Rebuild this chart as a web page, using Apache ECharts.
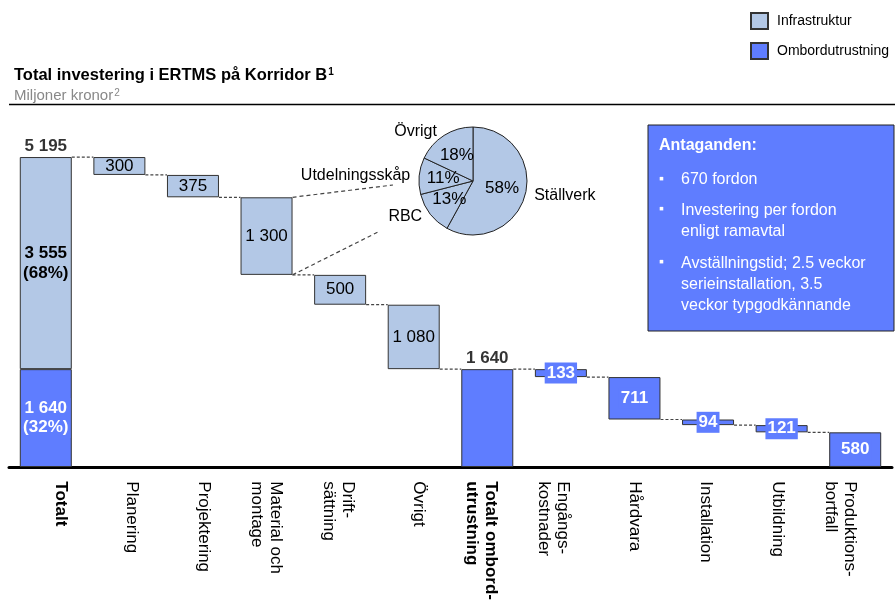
<!DOCTYPE html>
<html>
<head>
<meta charset="utf-8">
<script src="https://cdn.jsdelivr.net/npm/echarts@6/dist/echarts.min.js"></script>
<style>
  html, body { margin: 0; padding: 0; background: #fff; }
  #chart { width: 895px; height: 603px; }
</style>
</head>
<body>
<div id="chart"></div>
<script>
// waterfall data, million SEK
const categories = ['Totalt', 'Planering', 'Projektering', 'Material och\nmontage', 'Drift-\nsättning', 'Övrigt',
  'Totalt ombord-\nutrustning', 'Engångs-\nkostnader', 'Hårdvara', 'Installation', 'Utbildning', 'Produktions-\nbortfall'];
const infraValues = [3555, 300, 375, 1300, 500, 1080, '-', '-', '-', '-', '-', '-'];
const onboardValues = [1640, '-', '-', '-', '-', '-', 1640, 133, 711, 94, 121, 580];
const totalIdx = [0, 6];

// pie: split of "Material och montage"
const pieNames = ['Ställverk', 'RBC', 'Utdelningsskåp', 'Övrigt'];
const pieShares = [58, 13, 11, 18];

const LIGHT = '#b3c8e6';
const BLUE = '#5f7dff';
const FONT = '"Liberation Sans", Arial, sans-serif';
const barW = 52;

const fmt = n => String(n).replace(/\B(?=(\d{3})+(?!\d))/g, ' ');
const num = v => (v === '-' ? 0 : v);

// running levels for the waterfall
const grand = infraValues[0] + onboardValues[0];
let level = grand;
const base = [];
const levels = [];
categories.forEach((c, i) => {
  if (i === 0) { base.push(0); level = grand; }
  else if (i === 6) { base.push(0); level = onboardValues[6]; }
  else { level -= num(infraValues[i]) + num(onboardValues[i]); base.push(level); }
  levels.push(level);
});

const chart = echarts.init(document.getElementById('chart'));

const infraData = infraValues.map((v, i) => {
  if (i === 0) {
    return { value: v, label: { show: true, fontWeight: 'bold',
      formatter: fmt(v) + '\n(' + Math.round(v / grand * 100) + '%)' } };
  }
  return v;
});

const onboardData = onboardValues.map((v, i) => {
  if (i === 0) {
    return { value: v, label: { show: true, color: '#fff', fontWeight: 'bold',
      formatter: fmt(v) + '\n(' + Math.round(v / grand * 100) + '%)' } };
  }
  if (i === 6) return { value: v, label: { show: false } };
  return v;
});

chart.setOption({
  animation: false,
  textStyle: { fontFamily: FONT },
  title: {
    left: 9, top: 62, itemGap: 4,
    text: '{b|Total investering i ERTMS på Korridor B}{s|1}',
    textStyle: { rich: {
      b: { fontSize: 16.5, fontWeight: 'bold', color: '#000', fontFamily: FONT },
      s: { fontSize: 10, color: '#000', padding: [0, 0, 6, 1], fontFamily: FONT }
    } },
    subtext: '{t|Miljoner kronor}{s|2}',
    subtextStyle: { rich: {
      t: { fontSize: 15, color: '#888', fontFamily: FONT },
      s: { fontSize: 10, color: '#888', padding: [0, 0, 6, 1], fontFamily: FONT }
    } }
  },
  legend: {
    orient: 'vertical', left: 750, top: 12, padding: 0,
    itemWidth: 17, itemHeight: 16, itemGap: 12, icon: 'rect',
    data: ['Infrastruktur', 'Ombordutrustning'],
    textStyle: { fontSize: 14, lineHeight: 16, color: '#000', padding: [0, 0, 0, 4] },
    selectedMode: false
  },
  grid: [
    { left: 9, right: 3, top: 109, bottom: 136 },
    { left: 34, width: 883, top: 109, bottom: 136 }
  ],
  xAxis: [{
    type: 'category', data: categories, gridIndex: 0,
    axisLine: { lineStyle: { color: '#000', width: 3 } },
    axisTick: { show: false },
    axisLabel: { show: false }
  }, {
    type: 'category', data: categories, gridIndex: 1,
    axisLine: { show: false }, axisTick: { show: false },
    axisLabel: {
      interval: 0, rotate: -90, margin: 15, align: 'left', verticalAlign: 'top',
      fontSize: 17, lineHeight: 19, color: '#000',
      formatter: (v, i) => totalIdx.includes(i) ? '{b|' + v.split('\n').join('}\n{b|') + '}' : v,
      rich: { b: { fontWeight: 'bold', fontSize: 17, lineHeight: 19, color: '#000' } }
    }
  }],
  yAxis: [{
    type: 'value', min: 0, max: 6000, gridIndex: 0, show: false
  }, {
    type: 'value', min: 0, max: 6000, gridIndex: 1, show: false
  }],
  series: [{
    name: 'base', type: 'bar', stack: 'w', barWidth: barW, silent: true,
    itemStyle: { color: 'transparent' },
    data: base
  }, {
    name: 'Ombordutrustning', type: 'bar', stack: 'w', barWidth: barW,
    itemStyle: { color: BLUE, borderColor: '#333', borderWidth: 1 },
    label: {
      show: true, position: 'inside', color: '#fff', fontWeight: 'bold', fontSize: 17,
      lineHeight: 19, backgroundColor: BLUE, padding: [2, 2, 0, 2],
      formatter: p => fmt(p.value)
    },
    emphasis: { disabled: true },
    data: onboardData
  }, {
    name: 'Infrastruktur', type: 'bar', stack: 'w', barWidth: barW,
    itemStyle: { color: LIGHT, borderColor: '#333', borderWidth: 1 },
    label: {
      show: true, position: 'inside', color: '#000', fontSize: 17, lineHeight: 20,
      formatter: p => fmt(p.value)
    },
    emphasis: { disabled: true },
    data: infraData
  }, {
    name: 'totals', type: 'scatter', symbolSize: 0, silent: true,
    label: { show: true, position: 'top', distance: 2, fontWeight: 'bold', fontSize: 17, color: '#000',
      formatter: p => fmt(p.value[1]) },
    data: totalIdx.map(i => [i, i === 0 ? grand : onboardValues[i]])
  }, {
    name: 'connectors', type: 'custom', silent: true, z: 1,
    encode: { x: 0, y: 1 },
    data: levels.slice(0, -1).map((v, i) => [i, v]),
    renderItem: (params, api) => {
      const i = api.value(0), lv = api.value(1);
      const p0 = api.coord([i, lv]);
      const p1 = api.coord([i + 1, lv]);
      return {
        type: 'line',
        shape: { x1: p0[0] + barW / 2, y1: p0[1], x2: p1[0] - barW / 2, y2: p1[1] },
        style: { stroke: '#444', lineWidth: 1.2, lineDash: [3, 2] }
      };
    }
  }, {
    name: 'pie', type: 'pie', center: [473, 181], radius: 54,
    startAngle: 90, clockwise: true, silent: true,
    itemStyle: { color: LIGHT, borderColor: '#222', borderWidth: 1 },
    label: { position: 'inside', formatter: '{c}%', fontSize: 17, color: '#000' },
    emphasis: { disabled: true },
    data: pieNames.map((n, i) => ({ name: n, value: pieShares[i] }))
  }, {
    name: 'pieNames', type: 'pie', center: [473, 181], radius: 54,
    startAngle: 90, clockwise: true, silent: true,
    itemStyle: { color: 'transparent', borderWidth: 0 },
    label: { position: 'outside', formatter: '{b}', fontSize: 16, color: '#000' },
    labelLine: { show: false, length: 4, length2: 0 },
    emphasis: { disabled: true },
    data: pieNames.map((n, i) => ({ name: n, value: pieShares[i] }))
  }],
  graphic: [
    { id: 'rule', type: 'line', shape: { x1: 9, y1: 104.5, x2: 895, y2: 104.5 }, style: { stroke: '#000', lineWidth: 1.5 } },
    { id: 'box', type: 'rect', shape: { x: 648, y: 125, width: 246, height: 206 },
      style: { fill: BLUE, stroke: '#222', lineWidth: 1 } },
    { id: 't0', type: 'text', x: 659, y: 146, style: { text: 'Antaganden:', fill: '#fff', font: 'bold 16px ' + FONT, textVerticalAlign: 'middle' } },
    { id: 'b1', type: 'text', x: 659, y: 179, style: { text: '▪', fill: '#fff', font: '14px ' + FONT, textVerticalAlign: 'middle' } },
    { id: 't1', type: 'text', x: 681, y: 180, style: { text: '670 fordon', fill: '#fff', font: '16px ' + FONT, textVerticalAlign: 'middle' } },
    { id: 'b2', type: 'text', x: 659, y: 209, style: { text: '▪', fill: '#fff', font: '14px ' + FONT, textVerticalAlign: 'middle' } },
    { id: 't2', type: 'text', x: 681, y: 200, style: { text: 'Investering per fordon\nenligt ramavtal', fill: '#fff', font: '16px ' + FONT, lineHeight: 21 } },
    { id: 'b3', type: 'text', x: 659, y: 262, style: { text: '▪', fill: '#fff', font: '14px ' + FONT, textVerticalAlign: 'middle' } },
    { id: 't3', type: 'text', x: 681, y: 253, style: { text: 'Avställningstid; 2.5 veckor\nserieinstallation, 3.5\nveckor typgodkännande', fill: '#fff', font: '16px ' + FONT, lineHeight: 21 } }
  ]
});

// dashed guides from the "Material och montage" bar to the pie
const matIdx = 3;
const topR = chart.convertToPixel({ gridIndex: 0 }, [matIdx, base[matIdx] + infraValues[matIdx]]);
const botR = chart.convertToPixel({ gridIndex: 0 }, [matIdx, base[matIdx]]);
chart.setOption({
  graphic: [
    { id: 'guideTop', type: 'line', shape: { x1: topR[0] + barW / 2, y1: topR[1], x2: 393, y2: 185 },
      style: { stroke: '#444', lineWidth: 1.2, lineDash: [4, 3] } },
    { id: 'guideBot', type: 'line', shape: { x1: botR[0] + barW / 2, y1: botR[1], x2: 378, y2: 232 },
      style: { stroke: '#444', lineWidth: 1.2, lineDash: [4, 3] } }
  ]
});
</script>
</body>
</html>
